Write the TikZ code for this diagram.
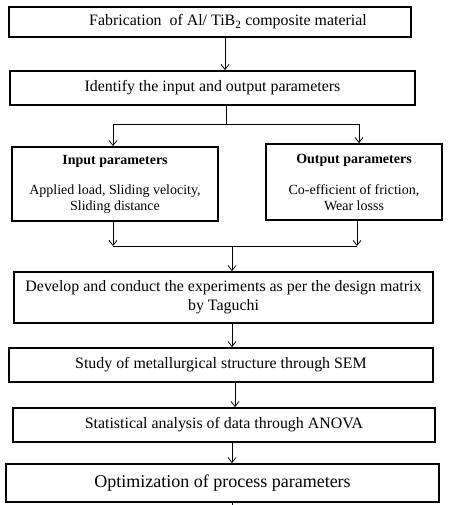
\documentclass[tikz,border=0pt]{standalone}
\usepackage{fontspec}
\setmainfont{Liberation Serif}
\usetikzlibrary{arrows.meta}
\begin{document}
\begin{tikzpicture}[x=1pt,y=-1pt,
  box/.style={draw=black,line width=1.8pt,inner sep=0pt,align=center,font=\fontsize{15.9}{19}\selectfont},
  pbox/.style={box,font=\fontsize{14}{16}\selectfont},
  arr/.style={line width=0.8pt,-{Straight Barb[length=5pt,width=8pt,line width=0.8pt]}},
  ln/.style={line width=0.8pt}]
\useasboundingbox[fill=white] (0,0) rectangle (449,505);
\node[box,minimum width=402pt,minimum height=30pt] (b1) at (210,22) {\hspace*{36pt}Fabrication\ \ of Al/ TiB\textsubscript{2} composite material};
\node[box,minimum width=405pt,minimum height=34pt] (b2) at (212.5,88) {Identify the input and output parameters};
\node[pbox,minimum width=206pt,minimum height=74pt] (in) at (115,184) {\textbf{Input parameters}\\[14pt]Applied load, Sliding velocity,\\Sliding distance};
\node[pbox,minimum width=176pt,minimum height=76pt] (out) at (354,182) {\textbf{Output parameters}\\[15pt]Co-efficient of friction,\\Wear losss};
\node[box,minimum width=419pt,minimum height=51pt] (b3) at (223.5,297.5) {Develop and conduct the experiments as per the design matrix\\by Taguchi};
\node[box,minimum width=424pt,minimum height=34pt] (b4) at (221,365) {Study of metallurgical structure through SEM};
\node[box,minimum width=422pt,minimum height=34pt] (b5) at (224,425) {Statistical analysis of data through ANOVA};
\node[box,minimum width=433pt,minimum height=38pt,font=\fontsize{18}{21}\selectfont] (b6) at (222.5,483) {Optimization of process parameters};
% guide coordinates
\coordinate (x1) at (225,0);
\coordinate (j1) at (226,124);
\coordinate (jl) at (113,124);
\coordinate (jr) at (359,124);
\coordinate (kl) at (113,246);
\coordinate (kr) at (357,246);
\coordinate (j2) at (232,246);
\coordinate (x3) at (232,0);
\coordinate (x4) at (235,0);
\coordinate (x5) at (232,0);
\coordinate (tail) at (232,505);
\draw[arr] (b1.south -| x1) -- (b2.north -| x1);
\draw[ln] (b2.south -| j1) -- (j1);
\draw[ln] (jl) -- (jr);
\draw[arr] (jl) -- (in.north -| jl);
\draw[arr] (jr) -- (out.north -| jr);
\draw[arr] (in.south -| kl) -- (kl);
\draw[arr] (out.south -| kr) -- (kr);
\draw[ln] (kl) -- (kr);
\draw[arr] (j2) -- (b3.north -| j2);
\draw[arr] (b3.south -| x3) -- (b4.north -| x3);
\draw[arr] (b4.south -| x4) -- (b5.north -| x4);
\draw[arr] (b5.south -| x5) -- (b6.north -| x5);
\draw[ln] (b6.south -| tail) -- (tail);
\end{tikzpicture}
\end{document}
